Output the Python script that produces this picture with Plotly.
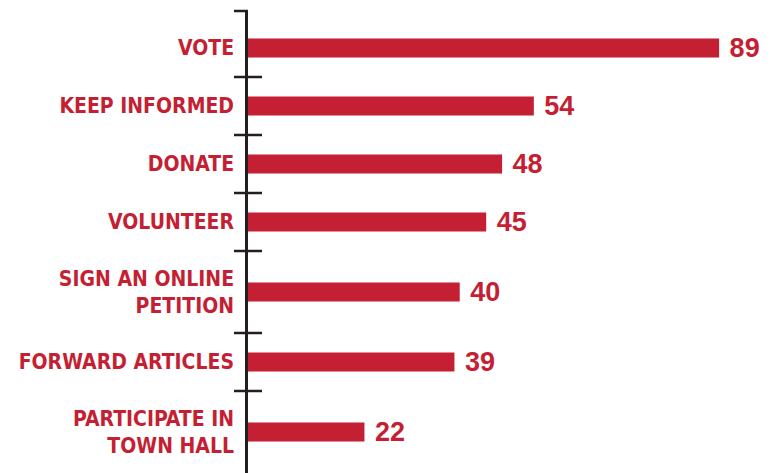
import plotly.graph_objects as go

categories = ["VOTE", "KEEP INFORMED", "DONATE", "VOLUNTEER",
              "SIGN AN ONLINE<br>PETITION", "FORWARD ARTICLES",
              "PARTICIPATE IN<br>TOWN HALL"]
values = [89, 54, 48, 45, 40, 39, 22]

RED = "#C41F33"
AXIS = "#231F20"

# layout: category band heights derived from number of label lines
pad_top = 8
h_single, h_extra = 58, 24
bounds = [pad_top]
for c in categories:
    n = c.count("<br>") + 1
    bounds.append(bounds[-1] + h_single + h_extra * (n - 1))
centers = [(a + b) / 2 for a, b in zip(bounds[:-1], bounds[1:])]
total = 462

fig = go.Figure(go.Bar(
    y=centers, x=values, orientation="h", width=19,
    marker=dict(color=RED, line=dict(width=0)),
    text=[" " + str(v) for v in values], textposition="outside",
    constraintext="none",
    textfont=dict(family="Liberation Sans", size=27, color=RED, weight="bold"),
    cliponaxis=False,
))

shapes = [dict(type="line", xref="paper", yref="paper", xsizemode="pixel", xanchor=0,
               x0=-14, x1=0, y0=1, y1=1, line=dict(color=AXIS, width=2.5))]
for b in bounds[1:-1]:
    yp = 1 - b / total
    shapes.append(dict(type="line", xref="paper", yref="paper", xsizemode="pixel", xanchor=0,
                       x0=-14, x1=14, y0=yp, y1=yp, line=dict(color=AXIS, width=2.5)))

# page body has an 8px margin, so the figure is 8px smaller and offsets reduced
fig.update_layout(
    width=768, height=465,
    margin=dict(l=240, r=0, t=3, b=0, autoexpand=False),
    paper_bgcolor="white", plot_bgcolor="white",
    showlegend=False,
    shapes=shapes,
    xaxis=dict(range=[0, 89 * 529 / 472], visible=False, showgrid=False, zeroline=False),
    yaxis=dict(range=[total, 0], tickvals=centers, ticktext=categories, automargin=False,
               showgrid=False, zeroline=False, showline=True, linecolor=AXIS, linewidth=2.5,
               ticks="", ticklabelstandoff=7,
               tickfont=dict(family="Liberation Sans Narrow, DejaVu Sans Condensed", size=21,
                             color=RED, weight="bold")),
)

fig.write_html("out.html")
